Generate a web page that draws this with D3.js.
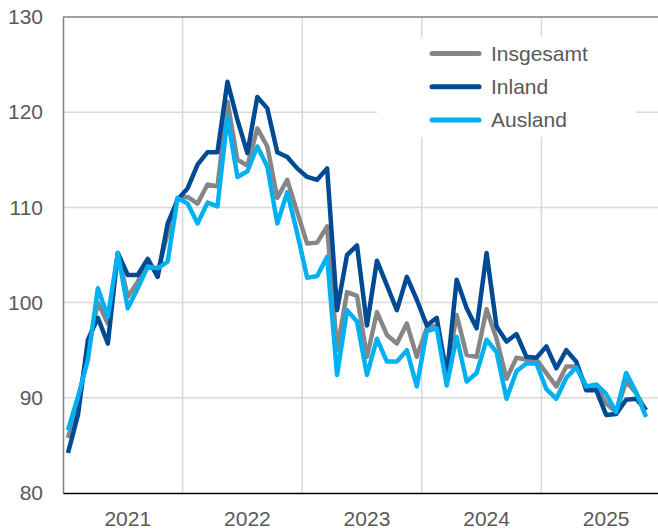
<!DOCTYPE html>
<html>
<head>
<meta charset="utf-8">
<script src="https://cdn.jsdelivr.net/npm/d3@7"></script>
<style>
  html, body { margin: 0; padding: 0; background: #fff; }
  svg { display: block; font-family: "Liberation Sans", Arial, sans-serif; }
</style>
</head>
<body>
<svg id="chart" width="658" height="529"></svg>
<script>
// ---- data (monthly, Jan 2021 .. Nov 2025) ----
const years = ["2021", "2022", "2023", "2024", "2025"];
const yTicks = [80, 90, 100, 110, 120, 130];
const seriesNames = ["Insgesamt", "Inland", "Ausland"];

const insgesamt = [85.8, 89.3, 95.0, 100.0, 97.8, 105.2, 100.6, 102.2, 104.2, 103.2, 107.3, 111.0,
  111.1, 110.4, 112.4, 112.2, 121.1, 115.0, 114.4, 118.3, 116.4, 111.0, 112.9, 109.5,
  106.2, 106.3, 108.0, 95.0, 101.1, 100.7, 94.3, 99.0, 96.6, 95.7, 97.8, 94.3,
  97.3, 97.6, 92.8, 98.7, 94.5, 94.3, 99.3, 96.2, 92.0, 94.2, 94.0, 94.0,
  92.6, 91.2, 93.3, 93.3, 91.2, 91.2, 89.4, 88.5, 91.7, 90.5, 88.7];
const inland = [84.2, 88.2, 96.1, 98.4, 95.7, 105.2, 102.9, 102.9, 104.6, 102.7, 108.3, 110.8,
  112.0, 114.5, 115.8, 115.8, 123.2, 119.2, 115.7, 121.6, 120.4, 115.8, 115.3, 114.1,
  113.2, 112.9, 114.1, 99.2, 105.0, 106.0, 97.6, 104.4, 101.8, 99.2, 102.7, 100.3,
  97.6, 98.4, 92.3, 102.4, 99.4, 97.3, 105.2, 97.5, 95.9, 96.7, 94.3, 94.2,
  95.4, 93.1, 95.0, 93.8, 90.8, 90.8, 88.2, 88.3, 89.8, 89.9, 88.7];
const ausland = [86.6, 90.1, 94.0, 101.5, 98.5, 105.2, 99.4, 101.5, 103.8, 103.6, 104.3, 111.0,
  110.4, 108.3, 110.5, 110.1, 119.5, 113.2, 113.8, 116.4, 114.3, 108.3, 111.6, 107.3,
  102.6, 102.8, 104.8, 92.4, 99.2, 98.0, 92.4, 96.2, 93.8, 93.8, 95.0, 91.2,
  97.0, 97.3, 91.3, 96.4, 91.7, 92.6, 96.1, 94.8, 89.9, 92.8, 93.6, 93.6,
  90.9, 89.9, 92.1, 93.2, 91.2, 91.4, 90.4, 88.5, 92.6, 90.6, 88.0];

const colors = ["#868686", "#004a93", "#00b0f0"];

// month keys for the x axis (Jan 2021 .. Dec 2025)
const months = [];
years.forEach(yr => { for (let m = 1; m <= 12; m++) months.push(yr + "-" + String(m).padStart(2, "0")); });

const svg = d3.select("#chart");
const mLeft = 63, mRight = 661, mTop = 17, mBottom = 493;
const fontSize = 21;

const x = d3.scaleBand().domain(months).range([mLeft, mRight]).paddingInner(0).paddingOuter(0);
const y = d3.scaleLinear().domain([80, 130]).range([mBottom, mTop]);
const xc = k => x(k) + x.bandwidth() / 2;

const textColor = "#595959";
const gridColor = "#d9d9d9";

// horizontal gridlines
svg.append("g").selectAll("line").data(yTicks.filter(v => v > 80 && v < 130)).join("line")
  .attr("x1", mLeft).attr("x2", mRight).attr("y1", d => y(d)).attr("y2", d => y(d))
  .attr("stroke", gridColor).attr("stroke-width", 1.5);

// vertical gridlines at year boundaries
svg.append("g").selectAll("line").data(years.slice(1).map(yr => yr + "-01")).join("line")
  .attr("x1", d => x(d)).attr("x2", d => x(d)).attr("y1", mTop).attr("y2", mBottom)
  .attr("stroke", gridColor).attr("stroke-width", 1.5);

// frame top line
svg.append("line").attr("x1", mLeft).attr("x2", mRight).attr("y1", mTop).attr("y2", mTop)
  .attr("stroke", "#7f7f7f").attr("stroke-width", 1.5);

// y axis
const yAxis = svg.append("g").attr("transform", `translate(${mLeft},0)`)
  .call(d3.axisLeft(y).tickValues(yTicks).tickSize(0).tickPadding(20).tickFormat(d3.format("d")));
yAxis.select(".domain").attr("stroke", "#7f7f7f").attr("stroke-width", 1.5);
yAxis.selectAll("text").attr("font-size", fontSize).attr("fill", textColor)
  .attr("font-family", '"Liberation Sans", Arial, sans-serif');

// x axis
const xAxis = svg.append("g").attr("transform", `translate(0,${mBottom})`)
  .call(d3.axisBottom(x).tickValues(years.map(yr => yr + "-07")).tickSize(0).tickPadding(18)
    .tickFormat(d => d.slice(0, 4)));
xAxis.select(".domain").attr("stroke", "#000").attr("stroke-width", 1.5);
xAxis.selectAll("text").attr("font-size", fontSize).attr("fill", textColor)
  .attr("font-family", '"Liberation Sans", Arial, sans-serif');

// lines
const allSeries = [insgesamt, inland, ausland];
const line = d3.line().x((d, i) => xc(months[i])).y(d => y(d));
allSeries.forEach((s, k) => {
  svg.append("path").datum(s).attr("d", line)
    .attr("fill", "none").attr("stroke", colors[k]).attr("stroke-width", 4.5)
    .attr("stroke-linejoin", "round").attr("stroke-linecap", "butt");
});

// legend
const lg = svg.append("g");
lg.append("rect").attr("x", 377).attr("y", 37).attr("width", 259).attr("height", 100).attr("fill", "#fff");
seriesNames.forEach((n, k) => {
  const yy = 53.5 + k * 33.3;
  lg.append("line").attr("x1", 432).attr("x2", 479).attr("y1", yy).attr("y2", yy)
    .attr("stroke", colors[k]).attr("stroke-width", 5).attr("stroke-linecap", "round");
  lg.append("text").attr("x", 491).attr("y", yy).attr("dy", "0.35em")
    .attr("font-size", fontSize).attr("fill", textColor).text(n);
});
</script>
</body>
</html>
